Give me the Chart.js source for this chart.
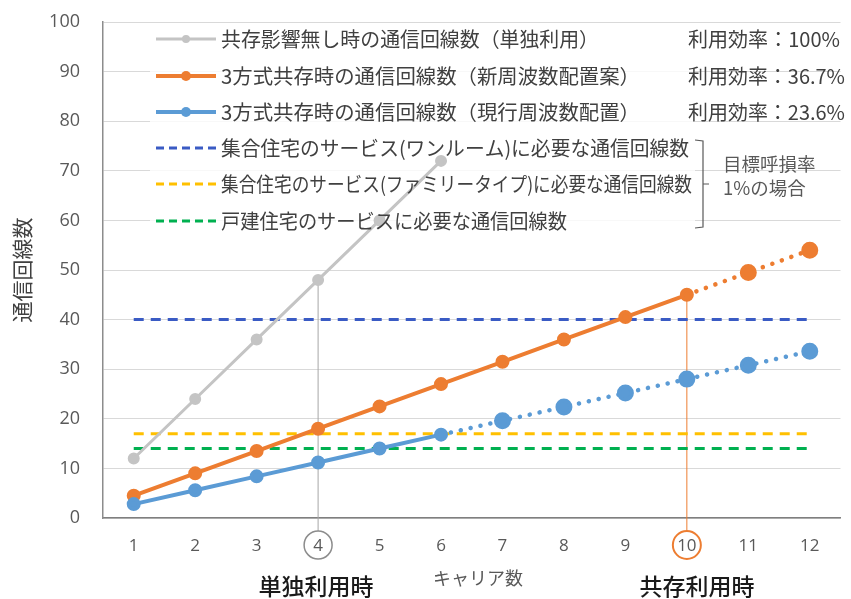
<!DOCTYPE html>
<html><head><meta charset="utf-8">
<script src="https://cdn.jsdelivr.net/npm/chart.js@4.4.1/dist/chart.umd.min.js"></script>
<style>html,body{margin:0;padding:0;background:#fff;}canvas{display:block;}</style>
</head><body>
<canvas id="c" width="851" height="599"></canvas>
<script>
const carriers = ['1','2','3','4','5','6','7','8','9','10','11','12'];
const standalone = [12, 24, 36, 48, 60, 72, null, null, null, null, null, null];
const newPlan = [4.5, 9, 13.5, 18, 22.5, 27, 31.5, 36, 40.5, 45, 49.5, 54];
const currentPlan = [2.8, 5.6, 8.4, 11.2, 14, 16.8, 19.6, 22.4, 25.2, 28, 30.8, 33.6];
const oneRoom = [40, 40, 40, 40, 40, 40, 40, 40, 40, 40, 40, 40];
const family = [17, 17, 17, 17, 17, 17, 17, 17, 17, 17, 17, 17];
const house = [14, 14, 14, 14, 14, 14, 14, 14, 14, 14, 14, 14];
const yTicks = [0, 10, 20, 30, 40, 50, 60, 70, 80, 90, 100];
const legendLabels = [
  '共存影響無し時の通信回線数（単独利用）',
  '3方式共存時の通信回線数（新周波数配置案）',
  '3方式共存時の通信回線数（現行周波数配置）',
  '集合住宅のサービス(ワンルーム)に必要な通信回線数',
  '集合住宅のサービス(ファミリータイプ)に必要な通信回線数',
  '戸建住宅のサービスに必要な通信回線数'
];
const efficiency = ['利用効率：100%', '利用効率：36.7%', '利用効率：23.6%'];
const bracketText = ['目標呼損率', '1%の場合'];
const yTitle = '通信回線数';
const xTitle = 'キャリア数';
const singleUse = '単独利用時';
const coexistUse = '共存利用時';
const singleIdx = 3;   // carrier 4
const coexistIdx = 9;  // carrier 10
const newSolidUntil = 9;
const curSolidUntil = 5;

const C_GRAY = '#C4C4C4', C_OR = '#ED7D31', C_BL = '#5B9BD5', C_DB = '#3A5BC4', C_YE = '#FFC000', C_GR = '#00B050';
const JP = '"Noto Sans CJK JP", "Noto Sans", sans-serif';

function fitText(ctx, text, x, y, w) {
  const m = ctx.measureText(text).width;
  ctx.save();
  ctx.translate(x, y);
  ctx.scale(w / m, 1);
  ctx.fillText(text, 0, 0);
  ctx.restore();
}

const overlay = {
  id: 'overlay',
  beforeDatasetsDraw(chart) {
    const ctx = chart.ctx, x = chart.scales.x, y = chart.scales.y;
    ctx.save();
    ctx.fillStyle = 'rgba(255,255,255,0.8)';
    ctx.fillRect(150, 24, 545, 212);
    ctx.lineWidth = 1;
    ctx.strokeStyle = '#A6A6A6';
    let px = x.getPixelForValue(singleIdx);
    ctx.beginPath(); ctx.moveTo(px, y.getPixelForValue(standalone[singleIdx])); ctx.lineTo(px, 531); ctx.stroke();
    ctx.strokeStyle = C_OR;
    px = x.getPixelForValue(coexistIdx);
    ctx.beginPath(); ctx.moveTo(px, y.getPixelForValue(newPlan[coexistIdx])); ctx.lineTo(px, 531); ctx.stroke();
    ctx.restore();
  },
  afterDraw(chart) {
    const ctx = chart.ctx, x = chart.scales.x;
    ctx.save();
    ctx.lineWidth = 1.5; ctx.strokeStyle = '#8C8C8C';
    ctx.beginPath(); ctx.arc(x.getPixelForValue(singleIdx), 545, 14, 0, Math.PI * 2); ctx.stroke();
    ctx.lineWidth = 2; ctx.strokeStyle = C_OR;
    ctx.beginPath(); ctx.arc(x.getPixelForValue(coexistIdx), 545, 14, 0, Math.PI * 2); ctx.stroke();
    ctx.save();
    ctx.translate(22, 270); ctx.rotate(-Math.PI / 2);
    ctx.font = '21px ' + JP; ctx.fillStyle = '#404040'; ctx.textAlign = 'center'; ctx.textBaseline = 'middle';
    ctx.fillText(yTitle, 0, 0);
    ctx.restore();
    ctx.textAlign = 'center'; ctx.textBaseline = 'middle';
    ctx.font = '18px ' + JP; ctx.fillStyle = '#595959';
    ctx.fillText(xTitle, 478, 578);
    ctx.font = '500 23px ' + JP; ctx.fillStyle = '#1a1a1a';
    ctx.fillText(singleUse, 316, 586);
    ctx.fillText(coexistUse, 697, 586);
    const rows = [39, 76, 112, 148, 184, 221];
    const widths = [378, 419, 419, 468, 471, 346];
    const styles = [
      {c: C_GRAY, w: 3, dash: [], m: 4},
      {c: C_OR, w: 4, dash: [], m: 5},
      {c: C_BL, w: 4, dash: [], m: 5},
      {c: C_DB, w: 3, dash: [8, 5], m: 0},
      {c: C_YE, w: 3, dash: [8, 5], m: 0},
      {c: C_GR, w: 3, dash: [8, 5], m: 0}
    ];
    ctx.textAlign = 'left';
    rows.forEach((ry, i) => {
      const s = styles[i];
      ctx.strokeStyle = s.c; ctx.lineWidth = s.w; ctx.setLineDash(s.dash);
      ctx.beginPath(); ctx.moveTo(156, ry); ctx.lineTo(216, ry); ctx.stroke();
      ctx.setLineDash([]);
      if (s.m) { ctx.fillStyle = s.c; ctx.beginPath(); ctx.arc(186, ry, s.m, 0, Math.PI * 2); ctx.fill(); }
      ctx.fillStyle = '#404040'; ctx.font = '20px ' + JP;
      fitText(ctx, legendLabels[i], 221, ry, widths[i]);
    });
    const effW = [152, 157, 157];
    efficiency.forEach((t, i) => { fitText(ctx, t, 688, rows[i], effW[i]); });
    ctx.strokeStyle = '#595959'; ctx.lineWidth = 1.2;
    ctx.beginPath();
    ctx.moveTo(695, 140); ctx.lineTo(703, 141); ctx.lineTo(703, 227); ctx.lineTo(695, 228);
    ctx.moveTo(703, 184); ctx.lineTo(709, 184);
    ctx.stroke();
    ctx.font = '18.5px ' + JP; ctx.fillStyle = '#595959';
    ctx.fillText(bracketText[0], 723, 164);
    ctx.fillText(bracketText[1], 723, 188);
    ctx.restore();
  }
};

const dotted = (from) => ({
  borderDash: c => c.p0DataIndex >= from ? [0.1, 10] : undefined,
  borderWidth: c => c.p0DataIndex >= from ? 4.5 : undefined
});
const radii = (from, a, b) => carriers.map((_, i) => i > from ? b : a);

const dashed = (data, color) => ({
  data, borderColor: color, borderWidth: 3, borderDash: [10, 7], pointRadius: 0, pointHoverRadius: 0, fill: false, order: 5
});

new Chart(document.getElementById('c'), {
  type: 'line',
  data: {
    labels: carriers,
    datasets: [
      dashed(oneRoom, C_DB), dashed(family, C_YE), dashed(house, C_GR),
      {data: standalone, borderColor: C_GRAY, backgroundColor: C_GRAY, borderWidth: 3, pointRadius: 4.5, pointStyle: 'circle', order: 1},
      {data: currentPlan, borderColor: C_BL, backgroundColor: C_BL, borderWidth: 4, borderCapStyle: 'round',
       pointRadius: radii(curSolidUntil, 5, 6.5), segment: dotted(curSolidUntil), order: 2},
      {data: newPlan, borderColor: C_OR, backgroundColor: C_OR, borderWidth: 4, borderCapStyle: 'round',
       pointRadius: radii(newSolidUntil, 5, 6.5), segment: dotted(newSolidUntil), order: 3}
    ]
  },
  options: {
    responsive: false, animation: false, devicePixelRatio: 1,
    layout: {padding: {top: 22, right: 4, left: 0, bottom: 0}},
    plugins: {legend: {display: false}, tooltip: {enabled: false}},
    scales: {
      x: {
        offset: true,
        grid: {display: false, drawTicks: false},
        border: {display: true, color: '#7F7F7F', width: 1.5},
        ticks: {color: '#595959', font: {family: '"Open Sans", sans-serif', size: 17}, padding: 18, maxRotation: 0, autoSkip: false},
        afterFit: s => { s.height = 81; }
      },
      y: {
        min: 0, max: 100,
        afterBuildTicks: s => { s.ticks = yTicks.map(v => ({value: v})); },
        grid: {color: '#D9D9D9', lineWidth: 1, drawTicks: false},
        border: {display: true, color: '#8C8C8C', width: 1.5},
        ticks: {color: '#595959', font: {family: '"Open Sans", sans-serif', size: 18}, padding: 23},
        afterFit: s => { s.width = 103; s.paddingTop = 0; s.paddingBottom = 0; }
      }
    }
  },
  plugins: [overlay]
});
</script>
</body></html>
